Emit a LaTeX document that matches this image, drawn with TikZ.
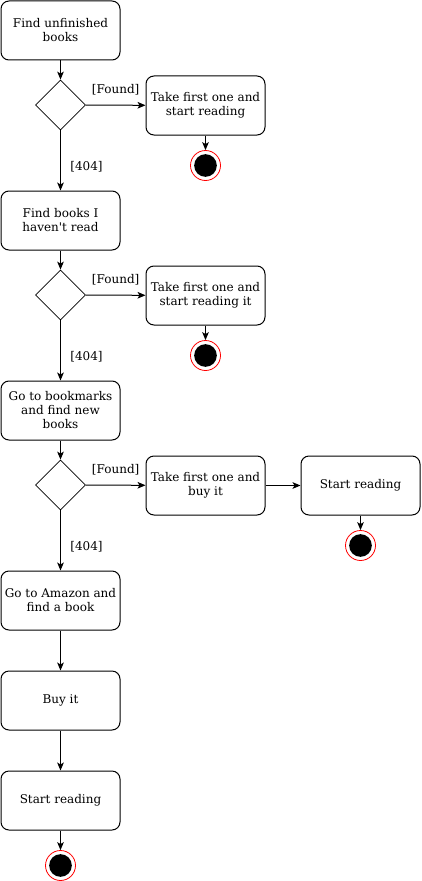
\documentclass[tikz,border=0pt]{standalone}
\usepackage{fontspec}
\setmainfont{DejaVu Serif}
\usetikzlibrary{arrows.meta,shapes.geometric}
\begin{document}
\begin{tikzpicture}[x=0.75pt,y=-0.75pt,
  act/.style={draw,rounded corners=6pt,minimum width=89.25pt,minimum height=44.25pt,align=center,inner sep=1pt,font=\fontsize{9}{10.5}\selectfont,line width=0.75pt},
  dec/.style={draw,diamond,minimum width=37.5pt,minimum height=37.5pt,inner sep=0pt,line width=0.6pt},
  lab/.style={font=\fontsize{9}{10.5}\selectfont,inner sep=0pt},
  arr/.style={-{Stealth[length=6pt,width=5pt,inset=1.5pt]},line width=0.75pt},
  endring/.style={circle,draw=red,fill=white,minimum size=22.5pt,inner sep=0pt,line width=0.6pt},
  enddot/.style={circle,fill=black,minimum size=17pt,inner sep=0pt}
]
\useasboundingbox (0,0) rectangle (421,881);
\node[act] (b1) at (60.5,30.5) {Find unfinished\\books};
\node[dec] (d1) at (60.5,105) {};
\node[act] (t1) at (205.5,105.5) {Take first one and\\start reading};
\node[endring] (e1) at (205.5,165.5) {};
\node[enddot] (e1d) at (e1) {};

\node[act] (b2) at (60.5,220.5) {Find books I\\haven\textquotesingle t read};
\node[dec] (d2) at (60.5,295) {};
\node[act] (t2) at (205.5,295.5) {Take first one and\\start reading it};
\node[endring] (e2) at (205.5,355.5) {};
\node[enddot] (e2d) at (e2) {};

\node[act] (b3) at (60.5,410.5) {Go to bookmarks\\and find new\\books};
\node[dec] (d3) at (60.5,485) {};
\node[act] (t3) at (205.5,485.5) {Take first one and\\buy it};
\node[act] (s3) at (360.5,485.5) {Start reading};
\node[endring] (e3) at (360.5,545.5) {};
\node[enddot] (e3d) at (e3) {};

\node[act] (b4) at (60.5,600.5) {Go to Amazon and\\find a book};
\node[act] (b5) at (60.5,700.5) {Buy it};
\node[act] (b6) at (60.5,800.5) {Start reading};
\node[endring] (e4) at (60.5,865.5) {};
\node[enddot] (e4d) at (e4) {};

\draw[arr] (b1) -- (d1);
\draw[arr] (d1) -- (t1) node[lab,pos=0.5,above=7pt] {[Found]};
\draw[arr] (d1) -- (b2) node[lab,pos=0.6,right=7pt] {[404]};
\draw[arr] (t1) -- (e1);

\draw[arr] (b2) -- (d2);
\draw[arr] (d2) -- (t2) node[lab,pos=0.5,above=7pt] {[Found]};
\draw[arr] (d2) -- (b3) node[lab,pos=0.6,right=7pt] {[404]};
\draw[arr] (t2) -- (e2);

\draw[arr] (b3) -- (d3);
\draw[arr] (d3) -- (t3) node[lab,pos=0.5,above=7pt] {[Found]};
\draw[arr] (d3) -- (b4) node[lab,pos=0.6,right=7pt] {[404]};
\draw[arr] (t3) -- (s3);
\draw[arr] (s3) -- (e3);

\draw[arr] (b4) -- (b5);
\draw[arr] (b5) -- (b6);
\draw[arr] (b6) -- (e4);
\end{tikzpicture}
\end{document}
